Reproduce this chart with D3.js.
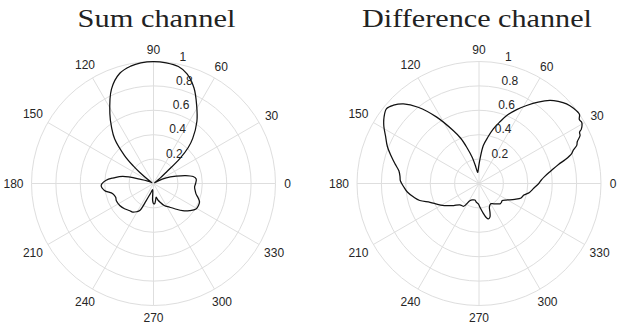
<!DOCTYPE html>
<html>
<head>
<meta charset="utf-8">
<script src="https://cdn.jsdelivr.net/npm/d3@7"></script>
<style>
  body { margin: 0; background: #fff; }
  svg { display: block; }
</style>
</head>
<body>
<svg id="chart" width="618" height="326"></svg>
<script>
// titles and ticks
var titles = ["Sum channel", "Difference channel"];
var rTicks = [0.2, 0.4, 0.6, 0.8, 1];
var thetaTicks = [0, 30, 60, 90, 120, 150, 180, 210, 240, 270, 300, 330];

// Sum channel: angle (deg) and normalised magnitude
var sumTheta = [0, 6, 10, 14, 18, 24, 30, 35, 39, 41.5, 43.5, 46, 49, 55, 61, 67, 73, 78, 84, 90,
  96, 101, 107, 114, 122, 127, 131, 136, 139, 141, 145, 151, 157, 162, 167, 172, 176, 182, 188,
  194, 200, 205, 213, 221, 229, 234, 239, 243, 247, 251, 255, 262, 267, 270, 273, 277, 281,
  285, 289, 296, 304, 310, 317, 323, 329, 334, 338, 342, 346, 351, 355];
var sumR = [0.345, 0.352, 0.33, 0.27, 0.195, 0.114, 0.04, 0.01, 0.07, 0.14, 0.3, 0.41, 0.49,
  0.62, 0.73, 0.85, 0.94, 0.98, 0.995, 1.0, 0.995, 0.98, 0.945, 0.847, 0.675, 0.57, 0.486, 0.33, 0.22,
  0.147, 0.05, 0.015, 0.05, 0.11, 0.258, 0.33, 0.389, 0.429, 0.406, 0.344, 0.33, 0.336,
  0.33, 0.315, 0.296, 0.29, 0.27, 0.249, 0.152, 0.1, 0.074, 0.05, 0.14, 0.165, 0.167, 0.14,
  0.114, 0.14, 0.16, 0.2, 0.234, 0.27, 0.327, 0.37, 0.407, 0.41, 0.407, 0.385, 0.36, 0.345,
  0.338];

// Difference channel
var diffTheta = [0, 3, 6, 10, 13.5, 15.5, 18, 19.5, 21.3, 23, 25.4, 27, 28, 30.8, 32.5, 34.6, 38.5,
  42.3, 46, 49.5, 54, 58.6, 63, 67.8, 71.5, 75.3, 79, 83.5, 87.7, 91, 94, 96.5, 99, 101.5, 104.5,
  108.7, 112, 116, 122.5, 128.6, 133.5, 137.5, 141, 145, 149, 153, 158, 163, 167, 171, 175,
  178, 183, 187, 192, 196, 201, 206, 211, 216, 221, 228, 236, 242, 248, 256, 262, 268, 273,
  278, 282, 285, 288, 290.6, 294, 300, 304, 308, 312, 316, 320, 324, 330, 336, 341, 345.5,
  350, 355];
var diffR = [0.49, 0.51, 0.54, 0.6, 0.67, 0.735, 0.8, 0.82, 0.86, 0.875, 0.917, 0.925, 0.95,
  0.98, 0.975, 1.0, 0.99, 0.97, 0.935, 0.895, 0.825, 0.749, 0.68, 0.602, 0.53, 0.463, 0.39,
  0.313, 0.2, 0.14, 0.105, 0.092, 0.105, 0.15, 0.22, 0.314, 0.4, 0.483, 0.645, 0.8, 0.9, 0.95,
  0.975, 0.95, 0.91, 0.86, 0.81, 0.75, 0.705, 0.665, 0.65, 0.645, 0.615, 0.59, 0.545, 0.505,
  0.43, 0.385, 0.35, 0.31, 0.275, 0.235, 0.225, 0.16, 0.145, 0.14, 0.155, 0.167, 0.2, 0.245,
  0.285, 0.3, 0.29, 0.257, 0.21, 0.192, 0.2, 0.212, 0.225, 0.24, 0.24, 0.236, 0.27, 0.32,
  0.365, 0.38, 0.42, 0.45];

var svg = d3.select("#chart");
svg.append("rect").attr("width", 618).attr("height", 326).attr("fill", "#fff");

var R = 122;
var rScale = d3.scaleLinear().domain([0, 1]).range([0, R]);
var rad = function(d) { return d * Math.PI / 180; };

var panels = [
  { title: titles[0], cx: 153.5, cy: 183.5, tx: 156.5, tw: 158, theta: sumTheta, r: sumR },
  { title: titles[1], cx: 479, cy: 183.5, tx: 477, tw: 230, theta: diffTheta, r: diffR }
];

panels.forEach(function(p) {
  var g = svg.append("g").attr("transform", "translate(" + p.cx + "," + p.cy + ")");

  // grid rings and spokes
  g.selectAll(".ring")
    .data(rTicks)
    .enter().append("circle")
    .attr("r", d => rScale(d))
    .attr("fill", "none")
    .attr("stroke", "#dedede")
    .attr("stroke-width", 1);

  g.selectAll(".spoke")
    .data(thetaTicks)
    .enter().append("line")
    .attr("x1", 0).attr("y1", 0)
    .attr("x2", d => rScale(1) * Math.cos(rad(d)))
    .attr("y2", d => -rScale(1) * Math.sin(rad(d)))
    .attr("stroke", "#dedede")
    .attr("stroke-width", 1);

  // the pattern
  var pts = p.theta.map((t, i) => ({ t: t, r: p.r[i] }));
  var line = d3.lineRadial()
    .angle(d => Math.PI / 2 - rad(d.t))
    .radius(d => rScale(d.r))
    .curve(d3.curveCatmullRomClosed.alpha(0.5));

  g.append("path")
    .datum(pts)
    .attr("d", line)
    .attr("fill", "none")
    .attr("stroke", "#111")
    .attr("stroke-width", 1.25);

  // angle labels
  g.selectAll(".tlabel")
    .data(thetaTicks)
    .enter().append("text")
    .attr("font-family", "Liberation Sans, Arial, sans-serif")
    .attr("font-size", 12)
    .attr("fill", "#262626")
    .attr("text-anchor", "middle")
    .attr("dy", "0.35em")
    .text(d => d)
    .each(function(d) {
      var w = this.getComputedTextLength();
      var off = 134 + Math.max(0, w / 2 - 4) * Math.abs(Math.cos(rad(d)));
      d3.select(this)
        .attr("x", off * Math.cos(rad(d)))
        .attr("y", -off * Math.sin(rad(d)));
    });

  // radial labels along 82 degrees
  g.selectAll(".rlabel")
    .data(rTicks)
    .enter().append("text")
    .attr("font-family", "Liberation Sans, Arial, sans-serif")
    .attr("font-size", 12)
    .attr("fill", "#262626")
    .attr("x", d => rScale(d) * Math.cos(rad(82)) + 9)
    .attr("y", d => -rScale(d) * Math.sin(rad(82)) - 6)
    .attr("dy", "0.35em")
    .text(d => d);

  // title
  svg.append("text")
    .attr("x", p.tx)
    .attr("y", 27)
    .attr("text-anchor", "middle")
    .attr("font-family", "Liberation Serif, Times New Roman, serif")
    .attr("font-size", 26)
    .attr("fill", "#222")
    .attr("textLength", p.tw)
    .attr("lengthAdjust", "spacingAndGlyphs")
    .text(p.title);
});
</script>
</body>
</html>
